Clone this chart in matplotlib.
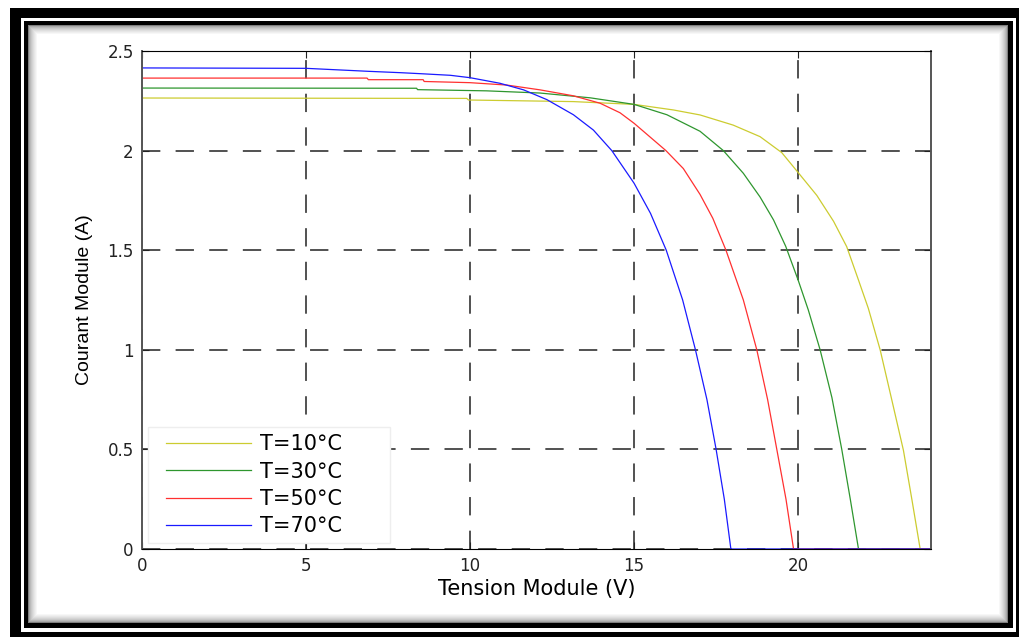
import numpy as np
import matplotlib.pyplot as plt
from matplotlib.patches import Rectangle

# I-V curves of the module at four cell temperatures
v_10 = [0, 9.9, 9.95, 13.15, 15.0, 16.2, 17.01, 18.02, 18.84, 19.5, 20.0, 20.57,
        21.08, 21.48, 21.84, 22.14, 22.5, 22.86, 23.21, 23.47, 23.72, 24.05]
i_10 = [2.264, 2.262, 2.254, 2.246, 2.232, 2.204, 2.179, 2.128, 2.07, 1.99, 1.89, 1.775,
        1.645, 1.518, 1.35, 1.208, 1.0, 0.745, 0.495, 0.246, 0.0, 0.0]

v_30 = [0, 8.37, 8.4, 10.5, 12.13, 13.66, 15.0, 16.0, 17.01, 17.72, 18.33, 18.84,
        19.25, 19.62, 20.0, 20.31, 20.67, 21.03, 21.33, 21.59, 21.84, 24.05]
i_30 = [2.314, 2.313, 2.306, 2.30, 2.289, 2.265, 2.232, 2.18, 2.097, 2.0, 1.886, 1.767,
        1.652, 1.52, 1.35, 1.2, 1.0, 0.76, 0.5, 0.25, 0.0, 0.0]

v_50 = [0, 6.86, 6.9, 8.57, 8.6, 10.0, 11.12, 12.13, 13.15, 13.96, 14.57, 15.0, 15.97,
        16.5, 17.01, 17.4, 17.8, 18.33, 18.74, 19.07, 19.35, 19.63, 19.86, 24.05]
i_50 = [2.364, 2.364, 2.356, 2.356, 2.347, 2.341, 2.329, 2.305, 2.275, 2.238, 2.19, 2.137,
        2.0, 1.91, 1.78, 1.66, 1.5, 1.25, 1.0, 0.75, 0.5, 0.25, 0.0, 0.0]

v_70 = [0, 5.0, 6.9, 7.9, 8.5, 9.4, 10.0, 10.91, 11.63, 12.34, 13.15, 13.76, 14.32,
        15.0, 15.5, 15.98, 16.48, 16.87, 17.22, 17.5, 17.75, 17.95, 24.05]
i_70 = [2.415, 2.413, 2.398, 2.391, 2.386, 2.378, 2.366, 2.338, 2.305, 2.256, 2.18, 2.103,
        2.0, 1.836, 1.685, 1.5, 1.25, 1.0, 0.75, 0.5, 0.25, 0.0, 0.0]

labels = ['T=10°C', 'T=30°C', 'T=50°C', 'T=70°C']
colors = ['#cccc30', '#2e962e', '#ff3030', '#1a1aff']

W, H = 1020, 637
fig = plt.figure(figsize=(W / 100, H / 100), dpi=100)

# picture frame: thick black border, thin white gap, thin black line, soft inner shadow
bg = np.ones((H, W, 3))
bg[8:, 10:] = 0.0
bg[18:632, 21:1016] = 1.0
bg[21:628, 24:1013] = 0.0
bg[25:623, 28:1008] = 1.0
yy, xx = np.mgrid[0:H, 0:W]
dist = np.minimum.reduce([xx - 28, yy - 25, 1007 - xx, 622 - yy]).astype(float)
inside = (xx >= 28) & (xx < 1008) & (yy >= 25) & (yy < 623)
shade = 0.5 + 0.5 * np.sqrt(np.clip(dist / 9.0, 0, 1))
bg[inside] = np.minimum(bg[inside], shade[inside][:, None])
fig.figimage(bg, xo=0, yo=0, origin='upper', zorder=-10)

plt.rcParams['font.family'] = ['DejaVu Sans']

ax = fig.add_axes([142 / W, (H - 549) / H, (931 - 142) / W, (549 - 51) / H])
ax.set_facecolor('white')

for v, i, lab, c in zip([v_10, v_30, v_50, v_70], [i_10, i_30, i_50, i_70], labels, colors):
    ax.plot(v, i, color=c, lw=0.9, label=lab)

ax.set_xlim(0, 24.05)
ax.set_ylim(0, 2.5)
ax.set_xticks([0, 5, 10, 15, 20])
ax.set_yticks([0, 0.5, 1, 1.5, 2, 2.5])
ax.set_yticklabels(['0', '0.5', '1', '1.5', '2', '2.5'])
ax.grid(True, color='#222222', lw=1.1, linestyle=(0, (12, 10)))
ax.tick_params(direction='in', length=5, top=True, right=True, labelsize=12, pad=6,
               colors='#222222')
for side in ['left', 'right']:
    ax.spines[side].set_color('#555555')
    ax.spines[side].set_linewidth(1.4)

ax.set_xlabel('Tension Module (V)', fontsize=15, labelpad=3)
ax.set_ylabel('Courant Module (A)', fontsize=14, labelpad=10, family='Liberation Sans')

# legend box drawn separately so the entries can sit with a wider left margin
ax.add_patch(Rectangle((0.0076, 0.012), 0.3067, 0.233, transform=ax.transAxes,
                       facecolor='white', edgecolor='#eeeeee', lw=1.0, zorder=4))
leg = ax.legend(loc='upper left', bbox_to_anchor=(0.0298, 0.230), borderaxespad=0,
                borderpad=0, fontsize=15, handlelength=4.1, labelspacing=0.35,
                handletextpad=0.45, frameon=False)
leg.set_zorder(5)

fig.savefig('out.png', dpi=100)
